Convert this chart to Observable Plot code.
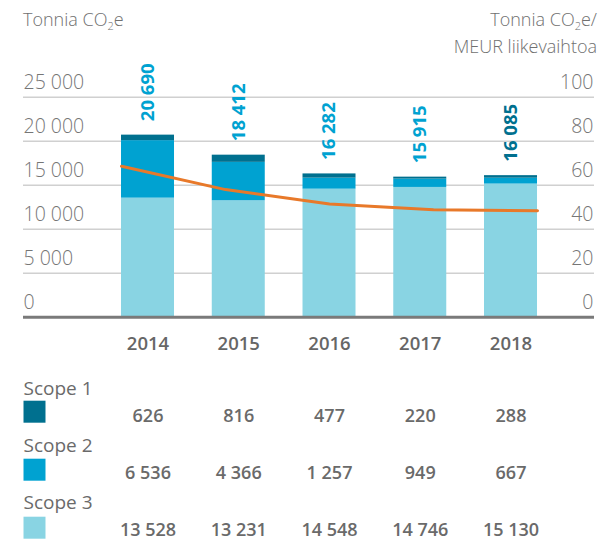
<!DOCTYPE html>
<html><head><meta charset="utf-8">
<script src="https://cdn.jsdelivr.net/npm/d3@7"></script>
<script src="https://cdn.jsdelivr.net/npm/@observablehq/plot@0.6"></script>
<style>
body{margin:0;background:#fff;}
#wrap{position:relative;width:602px;height:541px;font-family:"Open Sans",sans-serif;color:#707070;overflow:hidden;}
#wrap svg{position:absolute;left:0;top:0;}
.t{position:absolute;font-size:18px;line-height:27px;white-space:nowrap;z-index:2;font-weight:300;}
.t sub{font-size:11px;vertical-align:-4px;line-height:0;}
</style></head><body>
<div id="wrap">
<div class="t" style="left:23px;top:6px">Tonnia CO<sub>2</sub>e</div>
<div class="t" style="right:5px;top:6px;text-align:right">Tonnia CO<sub>2</sub>e/<br>MEUR liikevaihtoa</div>
</div>
<script>
const years = [2014, 2015, 2016, 2017, 2018];
const scopes = ["Scope 1", "Scope 2", "Scope 3"];
const scope1 = [626, 816, 477, 220, 288];
const scope2 = [6536, 4366, 1257, 949, 667];
const scope3 = [13528, 13231, 14548, 14746, 15130];
const totals = [20690, 18412, 16282, 15915, 16085];
const intensity = [68.6, 58.0, 51.5, 48.8, 48.4];   // Tonnia CO2e / MEUR liikevaihtoa
const leftTicks = [0, 5000, 10000, 15000, 20000, 25000];
const rightTicks = [0, 20, 40, 60, 80, 100];

const colors = ["#00708f", "#00a2d1", "#89d4e3"];
const W = 0.292; // half bar width in years
const rScale = 25000 / 100;
const fmt = v => d3.format(",")(v).replace(/,/g, " ");

const stacked = [];
years.forEach((y, i) => {
  stacked.push({year: y, scope: "Scope 3", value: scope3[i]});
  stacked.push({year: y, scope: "Scope 2", value: scope2[i]});
  stacked.push({year: y, scope: "Scope 1", value: scope1[i]});
});
const totalsData = years.map((y, i) => ({year: y, total: totals[i]}));
const span = years[years.length - 1] - years[0] + 2 * W;
const lineData = years.map((y, i) => ({x: years[0] - W + i * span / (years.length - 1), v: intensity[i]}));
const rows = [scope1, scope2, scope3];

const tableMarks = [];
rows.forEach((arr, k) => {
  tableMarks.push(Plot.text([scopes[k]], {
    text: d => d, frameAnchor: "bottom-left", textAnchor: "start", lineAnchor: "bottom",
    dy: 77.5 + k * 57, fontSize: 19, fill: "#6a6a6a"
  }));
  tableMarks.push(Plot.dot([scopes[k]], {
    frameAnchor: "bottom-left", dx: 11, dy: 94.5 + k * 58, symbol: "square",
    r: 22 / Math.sqrt(Math.PI), fill: colors[k]
  }));
  tableMarks.push(Plot.text(years.map((y, i) => ({year: y, v: arr[i]})), {
    x: "year", text: d => fmt(d.v), frameAnchor: "bottom", lineAnchor: "bottom",
    dy: 105 + k * 57, fontSize: 18, fontWeight: 600, fill: "#6a6a6a"
  }));
});

const chart = Plot.plot({
  width: 602, height: 541,
  marginLeft: 23, marginRight: 8, marginTop: 96.7, marginBottom: 224.3,
  x: {domain: [2012.628, 2018.92], axis: null},
  y: {domain: [0, 25000], axis: null},
  color: {domain: scopes, range: colors},
  style: {fontFamily: "'Open Sans', sans-serif", background: "transparent", overflow: "visible"},
  marks: [
    Plot.ruleY(leftTicks.filter(d => d > 0), {stroke: "#d0d0d0", strokeWidth: 1.5}),
    Plot.rectY(stacked, {x1: d => d.year - W, x2: d => d.year + W, y: "value", fill: "scope"}),
    Plot.ruleY([0], {stroke: "#7a7a7a", strokeWidth: 3}),
    Plot.line(lineData, {x: "x", y: d => d.v * rScale, stroke: "#e8792a", strokeWidth: 3}),
    Plot.text(leftTicks, {y: d => d, text: fmt, frameAnchor: "left", textAnchor: "start",
      lineAnchor: "bottom", dy: -8, fontSize: 19.5, fontWeight: 300, fill: "#767676"}),
    Plot.text(rightTicks, {y: d => d * rScale, text: d => String(d), frameAnchor: "right",
      textAnchor: "end", lineAnchor: "bottom", dy: -8, dx: -1, fontSize: 19.5, fontWeight: 300, fill: "#767676"}),
    Plot.text(totalsData, {x: "year", y: "total", text: d => fmt(d.total), rotate: -90,
      textAnchor: "start", dy: -14, fontSize: 18.5, fontWeight: 700,
      fill: d => d.year === 2018 ? colors[0] : colors[1]}),
    Plot.text(years, {x: d => d, text: d => String(d), frameAnchor: "bottom", lineAnchor: "bottom",
      dy: 32.5, fontSize: 18.5, fontWeight: 600, fill: "#666"}),
    ...tableMarks
  ]
});
document.getElementById("wrap").appendChild(chart);
</script>
</body></html>
